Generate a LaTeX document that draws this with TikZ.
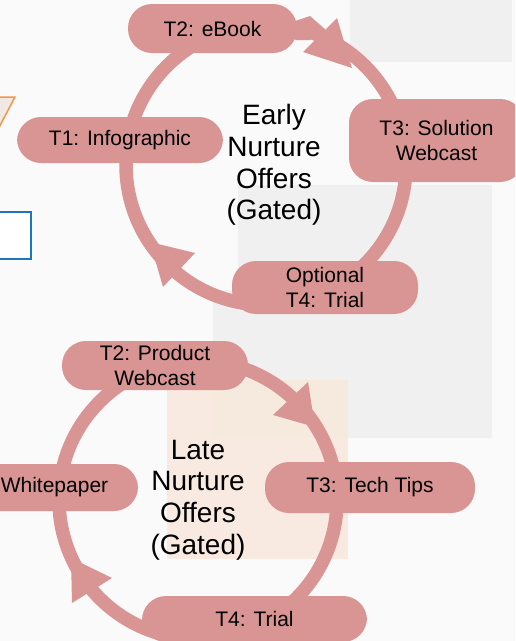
\documentclass[tikz,border=0pt]{standalone}
\usepackage{fontspec}
\setmainfont{Liberation Sans}
\definecolor{pinkc}{RGB}{217,149,148}
\definecolor{bgc}{RGB}{250,250,250}
\definecolor{grayc}{RGB}{240,240,240}
\definecolor{peach}{RGB}{248,232,220}
\definecolor{orng}{RGB}{247,150,70}
\definecolor{trifill}{RGB}{240,232,226}
\definecolor{bluec}{RGB}{30,118,180}
\begin{document}
\begin{tikzpicture}[x=1pt,y=-1pt,
  pill/.style={fill=pinkc, rounded corners=24pt, inner sep=0pt, align=center,
               text=black, font=\fontsize{21}{25}\selectfont},
  ring/.style={draw=pinkc, line width=13.5pt},
  head/.style={fill=pinkc},
  hub/.style={align=center, text=black, font=\fontsize{28}{31.7}\selectfont}]
\useasboundingbox (0,0) rectangle (515,641);
\clip (0,0) rectangle (515,641);
% background
\fill[bgc] (0,0) rectangle (515,641);
\fill[grayc] (350,0) rectangle (512,62);
\fill[grayc] (238,185) rectangle (492,438);
\fill[grayc] (213,290) rectangle (238,438);
\fill[peach, opacity=0.85] (167,380) rectangle (348,559);
\draw[orng, line width=1.5pt, fill=trifill] (-20,97) -- (15,97) -- (-5,135) -- cycle;
\draw[bluec, line width=1.5pt, fill=white] (-10,212) rectangle (31,259);

% ---- top cycle ----
\coordinate (ca) at (266,165);
\draw[ring] (ca) circle[radius=140];
\fill[head] (337,18) -- (352,68) -- (303,52) -- cycle;
\fill[head] (295,21) -- (310,16) -- (326,30) -- (310,40) -- (295,40) -- cycle;
\fill[head] (150,242) -- (163,287) -- (195,253) -- cycle;

\node[pill, minimum width=169pt, minimum height=49pt] (t2a) at (212.5,28.5) {T2: eBook};
\node[pill, minimum width=206pt, minimum height=46pt] (t1a) at (120,140) {T1: Infographic};
\node[pill, minimum width=175pt, minimum height=83pt] (t3a) at (436.5,140.5) {T3: Solution\\Webcast};
\node[pill, minimum width=186pt, minimum height=53pt] (t4a) at (325,287.5) {Optional\\T4: Trial};
\node[hub] (hubA) at (274,165) {Early\\Nurture\\Offers\\(Gated)};

% ---- bottom cycle ----
\coordinate (cb) at (198,500);
\draw[ring] (cb) circle[radius=139];
\fill[head] (308,382) -- (315,427) -- (273,415) -- cycle;
\fill[head] (71,558) -- (72,603) -- (112,578) -- cycle;

\node[pill, minimum width=186pt, minimum height=49pt] (t2b) at (155,365.5) {T2: Product\\Webcast};
\node[pill, minimum width=167pt, minimum height=47pt] (t1b) at (54.5,487.5) {Whitepaper};
\node[pill, minimum width=210pt, minimum height=51pt] (t3b) at (370,487.5) {T3: Tech Tips};
\node[pill, minimum width=225pt, minimum height=46pt] (t4b) at (254.5,619) {T4: Trial};
\node[hub] (hubB) at (198,500) {Late\\Nurture\\Offers\\(Gated)};
\end{tikzpicture}
\end{document}
